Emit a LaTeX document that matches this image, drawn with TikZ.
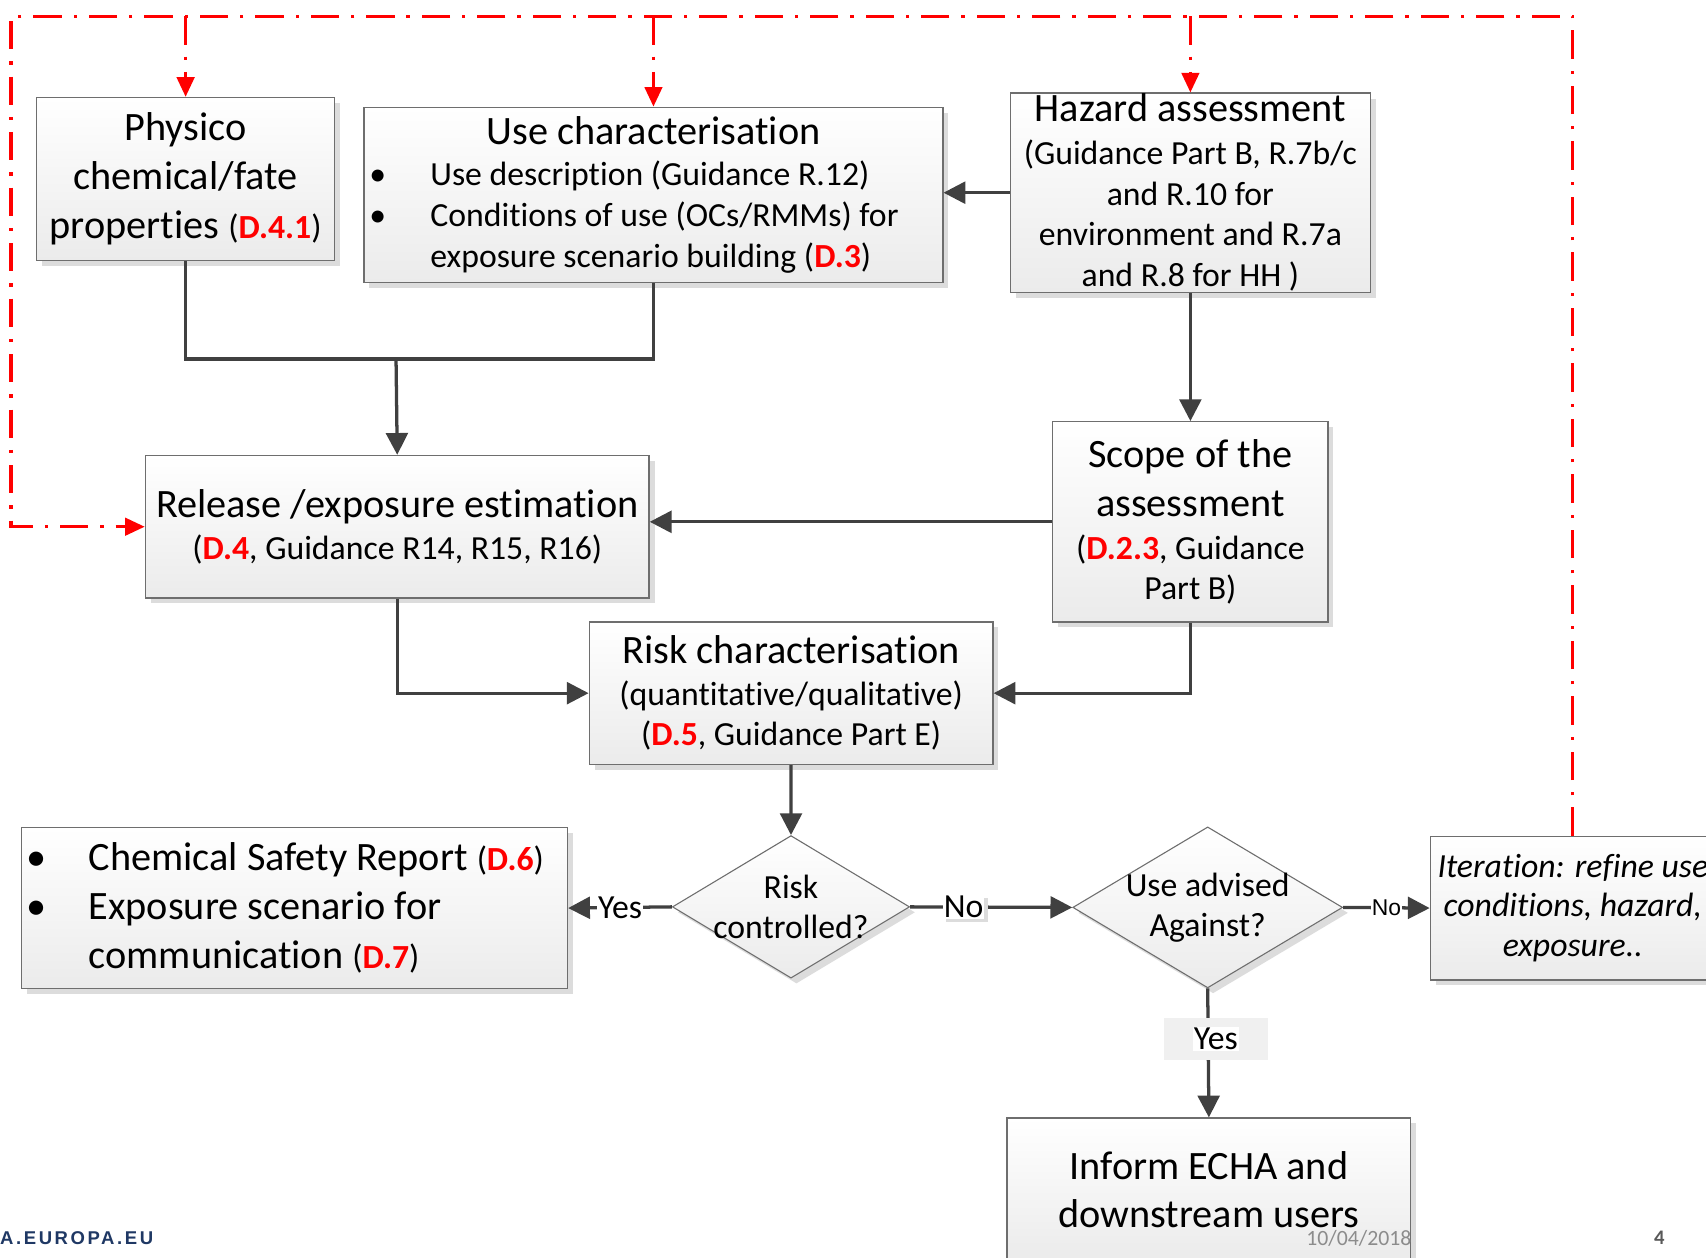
\documentclass[tikz,border=0pt]{standalone}
\usepackage{fontspec}
\setmainfont{Carlito}[Ligatures=NoCommon,RawFeature={-liga;-clig;-calt;-dlig}]
\newfontfamily\arialfont{Liberation Sans}
\newfontfamily\footfont[LetterSpace=14]{Liberation Sans}
\usetikzlibrary{arrows.meta,shapes.geometric,shadows}
\definecolor{connc}{HTML}{404040}
\definecolor{boxline}{HTML}{6E6E6E}
\definecolor{boxbot}{HTML}{EBEBEB}
\definecolor{shadowc}{HTML}{DCDCDC}
\definecolor{navyc}{HTML}{1F3864}
\definecolor{dategray}{HTML}{8C8C8C}
\definecolor{labgray}{HTML}{F0F0F0}
\newcommand{\dref}[1]{\textcolor{red}{\textbf{#1}}}
\newcommand{\myfsT}{\fontsize{37}{40}\selectfont}
\newcommand{\myfsS}{\fontsize{31}{37.5}\selectfont}
\begin{document}
\begin{tikzpicture}[x=1pt,y=-1pt,
  box/.style={draw=boxline, line width=1.2pt, top color=white, bottom color=boxbot,
    inner sep=0pt, align=center, anchor=north west,
    drop shadow={shadow xshift=5pt, shadow yshift=-5pt, fill=shadowc, opacity=1}},
  dia/.style={diamond, draw=boxline, line width=1pt, top color=white, bottom color=boxbot,
    inner sep=0pt, drop shadow={shadow xshift=5pt, shadow yshift=-5pt, fill=shadowc, opacity=1}},
  dtext/.style={inner sep=0pt, align=center, font=\fontsize{31}{37}\selectfont},
  cline/.style={draw=connc, line width=3pt},
  conn/.style={cline, -{Triangle[length=20pt,width=20pt]}},
  redl/.style={draw=red, line width=3pt, dash pattern=on 26pt off 11pt on 3pt off 11pt},
  redarr/.style={redl, -{Triangle[length=18pt,width=16pt]}},
  elab/.style={fill=white, inner sep=1pt, font=\fontsize{31}{37}\selectfont},
  ylab/.style={fill=labgray, inner sep=0pt, minimum width=96pt, minimum height=39pt, font=\fontsize{31}{37}\selectfont}
]
\useasboundingbox (0,0) rectangle (1568,1156);
\clip (0,0) rectangle (1568,1156);
\fill[white] (0,0) rectangle (1568,1156);

% boxes
\node[box, minimum width=274pt, minimum height=150pt, font=\fontsize{37}{45}\selectfont] (phys) at (33,89)
  {Physico\\chemical/fate\\properties {\myfsS(\dref{D.4.1})}};
\node[box, minimum width=532pt, minimum height=161pt, inner xsep=5pt, align=left, font=\myfsS] (usec) at (334,98)
  {\makebox[522pt]{\myfsT Use characterisation}\\[0.5pt]
   \makebox[56pt][l]{\textbullet}Use description (Guidance R.12)\\
   \makebox[56pt][l]{\textbullet}Conditions of use (OCs/RMMs) for\\
   \hspace*{56pt}exposure scenario building (\dref{D.3})};
\node[box, minimum width=331pt, minimum height=183pt, font=\myfsS] (haz) at (928,85)
  {{\myfsT Hazard assessment}\\[1.5pt](Guidance Part B, R.7b/c\\and R.10 for\\environment and R.7a\\and R.8 for HH )};
\node[box, minimum width=463pt, minimum height=131pt, font=\myfsS] (rel) at (133,418)
  {{\myfsT Release /exposure estimation}\\[0.5pt](\dref{D.4}, Guidance R14, R15, R16)};
\node[box, minimum width=253pt, minimum height=184pt, font=\myfsS] (scope) at (967,387)
  {{\myfsT Scope of the}\\[7.5pt]{\myfsT assessment}\\[2pt](\dref{D.2.3}, Guidance\\Part B)};
\node[box, minimum width=371pt, minimum height=131pt, font=\myfsS] (risk) at (541,571)
  {{\myfsT Risk characterisation}\\[0.5pt](quantitative/qualitative)\\(\dref{D.5}, Guidance Part E)};
\node[box, minimum width=502pt, minimum height=148pt, inner xsep=5pt, align=left, font=\fontsize{37}{45}\selectfont] (csr) at (19,760)
  {\makebox[492pt][l]{\makebox[57pt][l]{\textbullet}Chemical Safety Report {\myfsS(\dref{D.6})}}\\
   \makebox[57pt][l]{\textbullet}Exposure scenario for\\
   \hspace*{57pt}communication {\myfsS(\dref{D.7})}};
\node[box, minimum width=262pt, minimum height=132pt, font=\itshape\fontsize{31}{36.5}\selectfont] (iter) at (1314,768)
  {Iteration: refine use\\conditions, hazard,\\exposure..};
\node[box, minimum width=371pt, minimum height=131pt, font=\fontsize{37}{44}\selectfont] (inf) at (925,1027)
  {Inform ECHA and\\downstream users};

% decisions
\node[dia, minimum width=218pt, minimum height=131pt] (rc) at (727,833.5) {};
\node[dtext] (rctx) at (rc.center) {Risk\\controlled?};
\node[dia, minimum width=248pt, minimum height=148pt] (ua) at (1110,834) {};
\node[dtext] (uatx) at (ua.center) {Use advised\\Against?};

% connectors
\coordinate (j1) at (364,330);
\draw[cline] (phys.south) |- (j1) -| (usec.south);
\draw[conn] (j1) -- (rel.north);
\draw[conn] (haz.west) -- (haz.west -| usec.east);
\draw[conn] (haz.south) -- (scope.north);
\draw[conn] (scope.west) -- (scope.west -| rel.east);
\draw[conn] (rel.south) |- (risk.west);
\draw[conn] (scope.south) |- (risk.east);
\draw[conn] (risk.south) -- (rc.north);
\draw[conn] (rc.west) -- node[elab] (yes1) {Yes} (csr.east);
\draw[conn] (rc.east) -- node[pos=0.33, elab, drop shadow={shadow xshift=3pt, shadow yshift=-3pt, fill=shadowc, opacity=1}] (no1) {No} (ua.west);
\draw[conn] (ua.east) -- node[elab, font=\arialfont\fontsize{21}{24}\selectfont] (no2) {No} (iter.west);
\draw[conn] (ua.south) -- node[pos=0.39, ylab, xshift=7pt] (yes2) {\setlength{\fboxsep}{1pt}\colorbox{white}{Yes}} (inf.north);

% red iteration loop
\coordinate (tl) at (10,15);
\draw[redarr] (iter.north) |- (tl) |- (rel.west);
\draw[redarr] (tl -| phys.north) -- (phys.north);
\draw[redarr] (tl -| usec.north) -- (usec.north);
\draw[redarr] (tl -| haz.north) -- (haz.north);

% footer
\node[anchor=west, inner sep=0pt, font=\footfont\bfseries\fontsize{17}{20}\selectfont, text=navyc] (url) at (0,1138) {A.EUROPA.EU};
\node[inner sep=0pt, font=\fontsize{20}{24}\selectfont, text=dategray] (date) at (1249,1138) {10/04/2018};
\node[inner sep=0pt, font=\bfseries\fontsize{19}{22}\selectfont, text=black!65] (pnum) at (1525,1138) {4};
\end{tikzpicture}
\end{document}
